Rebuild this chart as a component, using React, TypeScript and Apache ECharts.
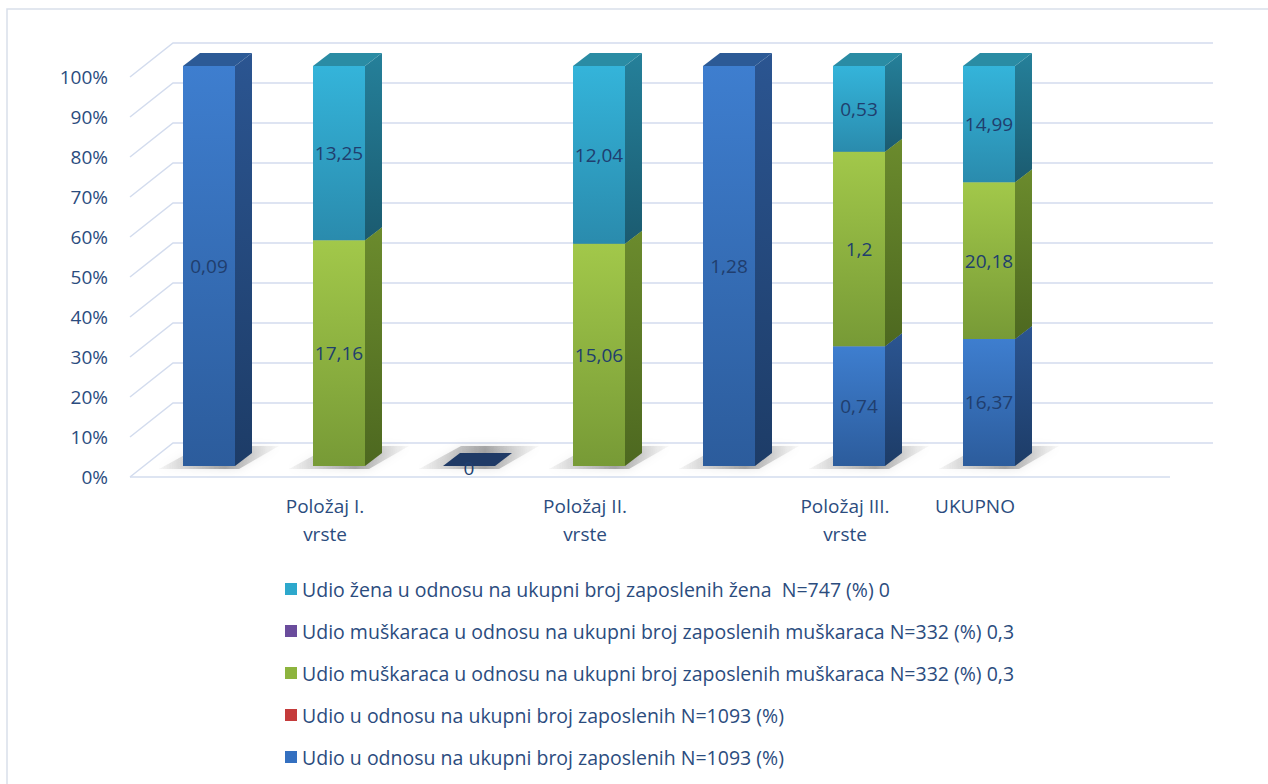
import React, { useEffect, useRef } from 'react';
import * as echarts from 'echarts';

// ---------- data ----------
const categories = ['', 'Položaj I.\nvrste', '', 'Položaj II.\nvrste', '', 'Položaj III.\nvrste', 'UKUPNO', ''];
const yTicks = [0, 10, 20, 30, 40, 50, 60, 70, 80, 90, 100];

const udioUkupno = [0.09, null, 0, null, 1.28, 0.74, 16.37, null];
const udioUkupnoB = [null, null, null, null, null, null, null, null];
const udioMuskarci = [null, 17.16, null, 15.06, null, 1.2, 20.18, null];
const udioMuskarciB = [null, null, null, null, null, null, null, null];
const udioZene = [null, 13.25, null, 12.04, null, 0.53, 14.99, null];

const nameUkupno = 'Udio u odnosu na ukupni broj zaposlenih N=1093 (%)';
const nameMuskarci = 'Udio muškaraca u odnosu na ukupni broj zaposlenih muškaraca N=332 (%) 0,3';
const nameZene = 'Udio žena u odnosu na ukupni broj zaposlenih žena  N=747 (%) 0';

// ---------- style ----------
const FONT = '"Open Sans", Lato, "Noto Sans", sans-serif';
const TEXT_COLOR = '#2B4C7E';
const LABEL_COLOR = '#203E6E';
const GRID_COLOR = '#D3DCEE';
const WALL_DX = 43;
const WALL_DY = 34;
const BAR_DX = 14;
const BAR_DY = 11;
const DEPTH_DX = 17;
const DEPTH_DY = 13;

type Pal = { legend: string; front: [string, string]; side: [string, string]; top: string };
const palettes: Record<string, Pal> = {
  blue: { legend: '#3470C0', front: ['#3E7ECF', '#2C5C9C'], side: ['#2B5591', '#1D3C67'], top: '#2C5A96' },
  red: { legend: '#C43B3B', front: ['#D04545', '#A83030'], side: ['#9A2A2A', '#7A2020'], top: '#A03030' },
  green: { legend: '#8DB43E', front: ['#A2C84A', '#779A36'], side: ['#6B8B2D', '#4D6820'], top: '#7E9F38' },
  purple: { legend: '#6A4C9C', front: ['#7D5FB0', '#5E4290'], side: ['#4F3878', '#3C2A5C'], top: '#5A4088' },
  cyan: { legend: '#2DA8CC', front: ['#34B4DA', '#2A8BAD'], side: ['#25809A', '#1B5B70'], top: '#2A8CA4' },
};

const stackDefs = [
  { key: 's1', name: nameUkupno, values: udioUkupno, pal: palettes.blue },
  { key: 's2', name: nameUkupno, values: udioUkupnoB, pal: palettes.red },
  { key: 's3', name: nameMuskarci, values: udioMuskarci, pal: palettes.green },
  { key: 's4', name: nameMuskarci, values: udioMuskarciB, pal: palettes.purple },
  { key: 's5', name: nameZene, values: udioZene, pal: palettes.cyan },
];

const fmt = (v: number) => String(v).replace('.', ',');

function grad(c: [string, string]) {
  return new echarts.graphic.LinearGradient(0, 0, 0, 1, [
    { offset: 0, color: c[0] },
    { offset: 1, color: c[1] },
  ]);
}

export default function App() {
  const ref = useRef<HTMLDivElement>(null);

  useEffect(() => {
    if (!ref.current) return;
    const chart = echarts.init(ref.current, undefined, { renderer: 'svg' });

    // 100% stacking
    const totals = categories.map((_, i) =>
      stackDefs.reduce((s, d) => s + (d.values[i] == null ? 0 : (d.values[i] as number)), 0)
    );
    const hasData = categories.map((_, i) => stackDefs.some((d) => d.values[i] != null));
    const cum = categories.map(() => 0);
    const seriesData = stackDefs.map((d) => {
      const out: number[][] = [];
      d.values.forEach((v, i) => {
        if (v == null) return;
        const pct = totals[i] > 0 ? (v / totals[i]) * 100 : 0;
        const start = cum[i];
        const end = start + pct;
        cum[i] = end;
        out.push([i, end, start, v]);
      });
      return out;
    });

    const wallSeries = {
      type: 'custom',
      name: 'walls',
      silent: true,
      z: 1,
      encode: { x: 0, y: 1 },
      data: yTicks.map((v) => [0, v]),
      renderItem: (params: any, api: any) => {
        const v = api.value(1);
        const p = api.coord([0, v]);
        const cs = params.coordSys;
        const x0 = cs.x;
        const x1 = cs.x + cs.width;
        const y = p[1];
        const children: any[] = [
          {
            type: 'polyline',
            shape: { points: [[x0, y], [x0 + WALL_DX, y - WALL_DY], [x1 + WALL_DX, y - WALL_DY]] },
            style: { stroke: GRID_COLOR, lineWidth: 1.5, fill: 'none' },
          },
        ];
        if (v === 0) {
          children.push({
            type: 'line',
            shape: { x1: x0, y1: y, x2: x1, y2: y },
            style: { stroke: GRID_COLOR, lineWidth: 1.5 },
          });
        }
        return { type: 'group', children };
      },
    };

    const shadowSeries = {
      type: 'custom',
      name: 'shadow',
      silent: true,
      z: 1,
      encode: { x: 0, y: 1 },
      data: categories.map((_, i) => (hasData[i] ? [i, 0] : null)).filter((d) => d != null),
      renderItem: (params: any, api: any) => {
        const cat = api.value(0);
        const p = api.coord([cat, 0]);
        const band = api.size([1, 0])[0];
        const hw = band * 0.2;
        const xc = p[0] + BAR_DX;
        const yb = p[1] - BAR_DY;
        return {
          type: 'polygon',
          shape: {
            points: [
              [xc - hw - 24, yb + 3],
              [xc + hw + 4, yb + 3],
              [xc + hw + 44, yb - 20],
              [xc - hw + 18, yb - 20],
            ],
          },
          style: {
            fill: new echarts.graphic.LinearGradient(0, 0, 1, 0, [
              { offset: 0, color: 'rgba(80,80,80,0.05)' },
              { offset: 0.55, color: 'rgba(70,70,70,0.45)' },
              { offset: 1, color: 'rgba(120,120,120,0.05)' },
            ]),
            shadowBlur: 8,
            shadowColor: 'rgba(0,0,0,0.25)',
          },
        };
      },
    };

    const barSeries = stackDefs.map((d, si) => ({
      type: 'custom',
      name: d.key,
      z: 2,
      itemStyle: { color: d.pal.legend },
      encode: { x: 0, y: 1 },
      data: seriesData[si],
      renderItem: (params: any, api: any) => {
        const cat = api.value(0);
        const end = api.value(1);
        const start = api.value(2);
        const raw = api.value(3);
        const p0 = api.coord([cat, start]);
        const p1 = api.coord([cat, end]);
        const band = api.size([1, 0])[0];
        const hw = band * 0.2;
        const xc = p0[0] + BAR_DX;
        const yb = p0[1] - BAR_DY;
        const yt = p1[1] - BAR_DY;
        const L = xc - hw;
        const R = xc + hw;
        const children: any[] = [];
        if (yb - yt > 0.5) {
          children.push({
            type: 'rect',
            shape: { x: L, y: yt, width: R - L, height: yb - yt },
            style: { fill: grad(d.pal.front) },
          });
          children.push({
            type: 'polygon',
            shape: { points: [[R, yb], [R + DEPTH_DX, yb - DEPTH_DY], [R + DEPTH_DX, yt - DEPTH_DY], [R, yt]] },
            style: { fill: grad(d.pal.side) },
          });
          children.push({
            type: 'polygon',
            shape: { points: [[L, yt], [R, yt], [R + DEPTH_DX, yt - DEPTH_DY], [L + DEPTH_DX, yt - DEPTH_DY]] },
            style: { fill: d.pal.top },
          });
        } else {
          children.push({
            type: 'polygon',
            shape: { points: [[L, yb], [R, yb], [R + DEPTH_DX, yb - DEPTH_DY], [L + DEPTH_DX, yb - DEPTH_DY]] },
            style: { fill: '#1F3A66' },
          });
        }
        children.push({
          type: 'text',
          z2: 10,
          style: {
            text: fmt(raw),
            x: xc,
            y: (yb + yt) / 2 + (yb - yt > 0.5 ? 0 : 2),
            align: 'center',
            verticalAlign: 'middle',
            fill: LABEL_COLOR,
            fontSize: 19,
            fontFamily: FONT,
          },
        });
        return { type: 'group', children };
      },
    }));

    const legendOrder = ['s5', 's4', 's3', 's2', 's1'];
    const legendText: Record<string, string> = {};
    stackDefs.forEach((d) => (legendText[d.key] = d.name));

    chart.setOption({
      animation: false,
      backgroundColor: '#ffffff',
      textStyle: { fontFamily: FONT },
      grid: { left: 130, right: 98, top: 77, bottom: 307, containLabel: false },
      xAxis: {
        type: 'category',
        data: categories,
        boundaryGap: true,
        axisLine: { show: false },
        axisTick: { show: false },
        splitLine: { show: false },
        axisLabel: {
          interval: 0,
          margin: 15,
          lineHeight: 28,
          fontSize: 19,
          color: TEXT_COLOR,
          fontFamily: FONT,
        },
      },
      yAxis: {
        type: 'value',
        min: 0,
        max: 100,
        interval: 10,
        axisLine: { show: false },
        axisTick: { show: false },
        splitLine: { show: false },
        axisLabel: {
          formatter: '{value}%',
          margin: 22,
          fontSize: 19,
          color: TEXT_COLOR,
          fontFamily: FONT,
        },
      },
      legend: {
        orient: 'vertical',
        left: 280,
        top: 573,
        itemWidth: 12,
        itemHeight: 12,
        itemGap: 20,
        icon: 'rect',
        selectedMode: false,
        data: legendOrder,
        formatter: (n: string) => legendText[n] || n,
        textStyle: { fontSize: 19.5, lineHeight: 22, color: TEXT_COLOR, fontFamily: FONT },
      },
      graphic: [
        {
          type: 'rect',
          silent: true,
          shape: { x: 7, y: 9, width: 1300, height: 800 },
          style: { fill: 'none', stroke: '#D9DFEA', lineWidth: 1.5 },
        },
      ],
      series: [wallSeries, shadowSeries, ...barSeries],
    });

    return () => chart.dispose();
  }, []);

  return (
    <div
      ref={ref}
      style={{ position: 'fixed', left: 0, top: 0, width: '1268px', height: '784px', background: '#fff' }}
    />
  );
}
